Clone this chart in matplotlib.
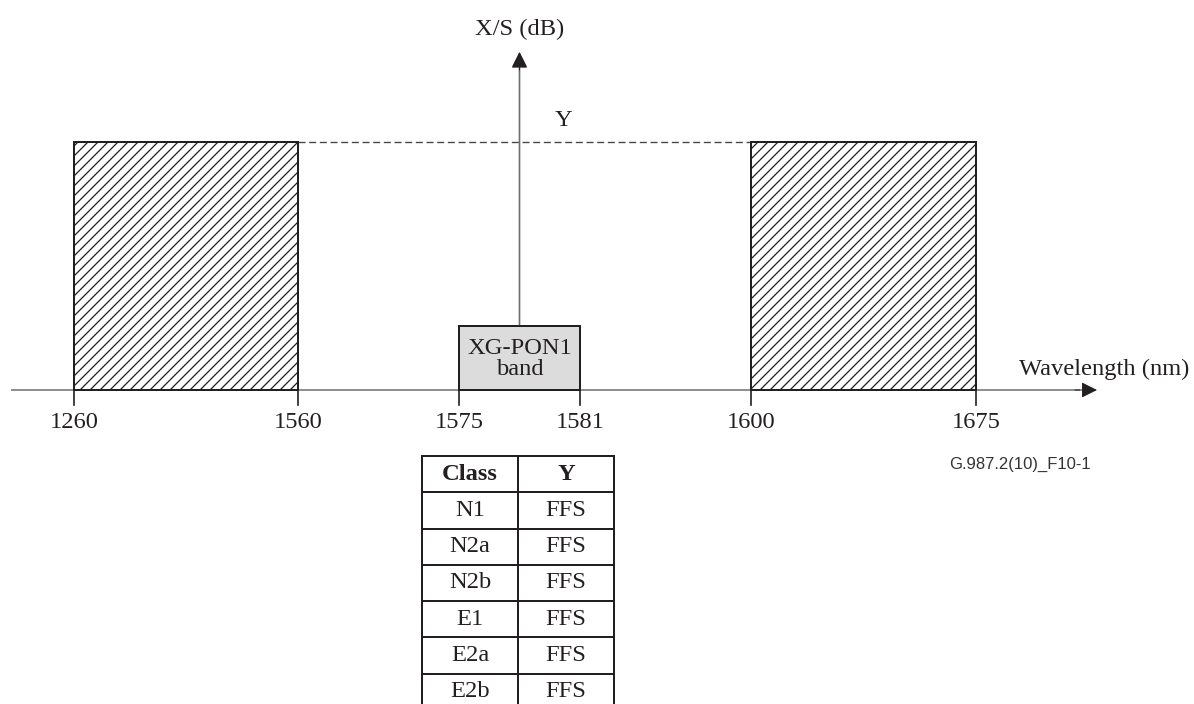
import numpy as np
import matplotlib
matplotlib.use("Agg")
import matplotlib.pyplot as plt
import matplotlib.transforms as mtransforms
from matplotlib.patches import Rectangle

# ---------------- data ----------------
tick_wavelengths = [1260, 1560, 1575, 1581, 1600, 1675]
tick_labels = ["1260", "1560", "1575", "1581", "1600", "1675"]
excluded_bands = [(1260, 1560), (1600, 1675)]
signal_band = (1575, 1581)
signal_band_label = "XG-PON1\nband"
y_level = 1.0
y_level_label = "Y"
x_axis_label = "Wavelength (nm)"
y_axis_label = "X/S (dB)"
table_header = ["Class", "Y"]
classes = ["N1", "N2a", "N2b", "E1", "E2a", "E2b"]
class_y = ["FFS", "FFS", "FFS", "FFS", "FFS", "FFS"]
figure_ref = "G.987.2(10)_F10-1"

# ---------------- layout (schematic, non-linear wavelength axis) ----------------
W, H, DPI = 1194, 704, 120
knot_px = [74, 298, 459, 580, 751, 976]          # horizontal layout of the knots
AXIS_PX = 390                                     # pixel row of wavelength axis
UNIT_PX = 248                                     # pixels per unit of X/S level

left_slope = (knot_px[1] - knot_px[0]) / (tick_wavelengths[1] - tick_wavelengths[0])
right_slope = (knot_px[-1] - knot_px[-2]) / (tick_wavelengths[-1] - tick_wavelengths[-2])
wl_ext = np.array([1000.0] + tick_wavelengths + [2000.0])
px_ext = np.array([knot_px[0] - (tick_wavelengths[0] - 1000.0) * left_slope] + knot_px +
                  [knot_px[-1] + (2000.0 - tick_wavelengths[-1]) * right_slope])


def fwd(w):
    return np.interp(w, wl_ext, px_ext)


def inv(p):
    return np.interp(p, px_ext, wl_ext)


def ypx(p):
    return (AXIS_PX - p) / UNIT_PX


plt.rcParams["font.family"] = ["Liberation Serif", "DejaVu Serif"]
plt.rcParams["hatch.linewidth"] = 0.75
plt.rcParams["lines.scale_dashes"] = False

TXT = "#231f20"
FS = 14.7

fig = plt.figure(figsize=(W / DPI, H / DPI), dpi=DPI)
ax = fig.add_axes([0, 0, 1, 1])
ax.set_xscale("function", functions=(fwd, inv))
ax.set_xlim(inv(0), inv(W))
ax.set_ylim(ypx(H), ypx(0))
ax.axis("off")

blend = mtransforms.blended_transform_factory(ax.transAxes, ax.transData)

# wavelength axis
ax.plot([11 / W, 1080 / W], [0, 0], color="#7a7a7a", lw=1.0, transform=blend,
        solid_capstyle="butt", zorder=2)
ax.annotate("", xy=(1097 / W, 0), xytext=(1075 / W, 0), xycoords=blend, textcoords=blend,
            arrowprops=dict(arrowstyle="-|>", mutation_scale=20, color=TXT, lw=0.6,
                            shrinkA=0, shrinkB=0), zorder=3)
ax.text(1104 / W, ypx(369), x_axis_label, transform=blend, ha="center", va="center",
        fontsize=FS, color=TXT)

# excluded (hatched) bands
for lo, hi in excluded_bands:
    ax.add_patch(Rectangle((lo, 0), hi - lo, y_level, facecolor="white", edgecolor=TXT,
                           hatch="////", lw=1.2, zorder=4))

# dashed Y level between the bands
ax.plot([excluded_bands[0][1], excluded_bands[1][0]], [y_level, y_level], color="#444444",
        lw=0.8, dashes=(4.2, 2.2), zorder=3)

# signal band box
ax.add_patch(Rectangle((signal_band[0], 0), signal_band[1] - signal_band[0], ypx(326),
                       facecolor="#dcdcdc", edgecolor=TXT, lw=1.2, zorder=5))
band_mid = (signal_band[0] + signal_band[1]) / 2
ax.text(band_mid, ypx(359), signal_band_label, ha="center", va="center", fontsize=FS,
        color=TXT, linespacing=0.95, zorder=6)

# vertical X/S axis
ax.annotate("", xy=(band_mid, ypx(52)), xytext=(band_mid, ypx(326)),
            arrowprops=dict(arrowstyle="-|>", mutation_scale=20, color="#6e6e6e", lw=1.0,
                            shrinkA=0, shrinkB=0), zorder=3)
ax.annotate("", xy=(band_mid, ypx(52)), xytext=(band_mid, ypx(70)),
            arrowprops=dict(arrowstyle="-|>", mutation_scale=20, color=TXT, lw=0.6,
                            shrinkA=0, shrinkB=0), zorder=3)
ax.text(band_mid, ypx(29), y_axis_label, ha="center", va="center", fontsize=FS, color=TXT)
ax.annotate(y_level_label, xy=(band_mid, y_level), xytext=(26.4, 13.2),
            textcoords="offset points", ha="center", va="center", fontsize=FS, color=TXT)

# ticks and tick labels
for w, lab in zip(tick_wavelengths, tick_labels):
    ax.plot([w, w], [0, ypx(405)], color=TXT, lw=1.0, zorder=4)
    ax.text(w, ypx(423), lab, ha="center", va="center", fontsize=FS, color=TXT)

# figure reference
ax.text(949 / W, ypx(464), figure_ref, transform=blend, ha="left", va="center",
        fontsize=10, color="#333333", family=["Liberation Sans", "DejaVu Sans"])

# class table
cell_text = [[c, v] for c, v in zip(classes, class_y)]
tbl = ax.table(cellText=[table_header] + cell_text, cellLoc="center",
               bbox=[422 / W, 1 - 710 / H, 192 / W, 254 / H], zorder=7)
tbl.auto_set_font_size(False)
tbl.set_fontsize(FS)
for (r, c), cell in tbl.get_celld().items():
    cell.set_edgecolor(TXT)
    cell.set_linewidth(1.2)
    cell.get_text().set_color(TXT)
    if r == 0:
        cell.get_text().set_fontweight("bold")
tbl.set_clip_on(False)

fig.savefig("out.png", dpi=DPI)
